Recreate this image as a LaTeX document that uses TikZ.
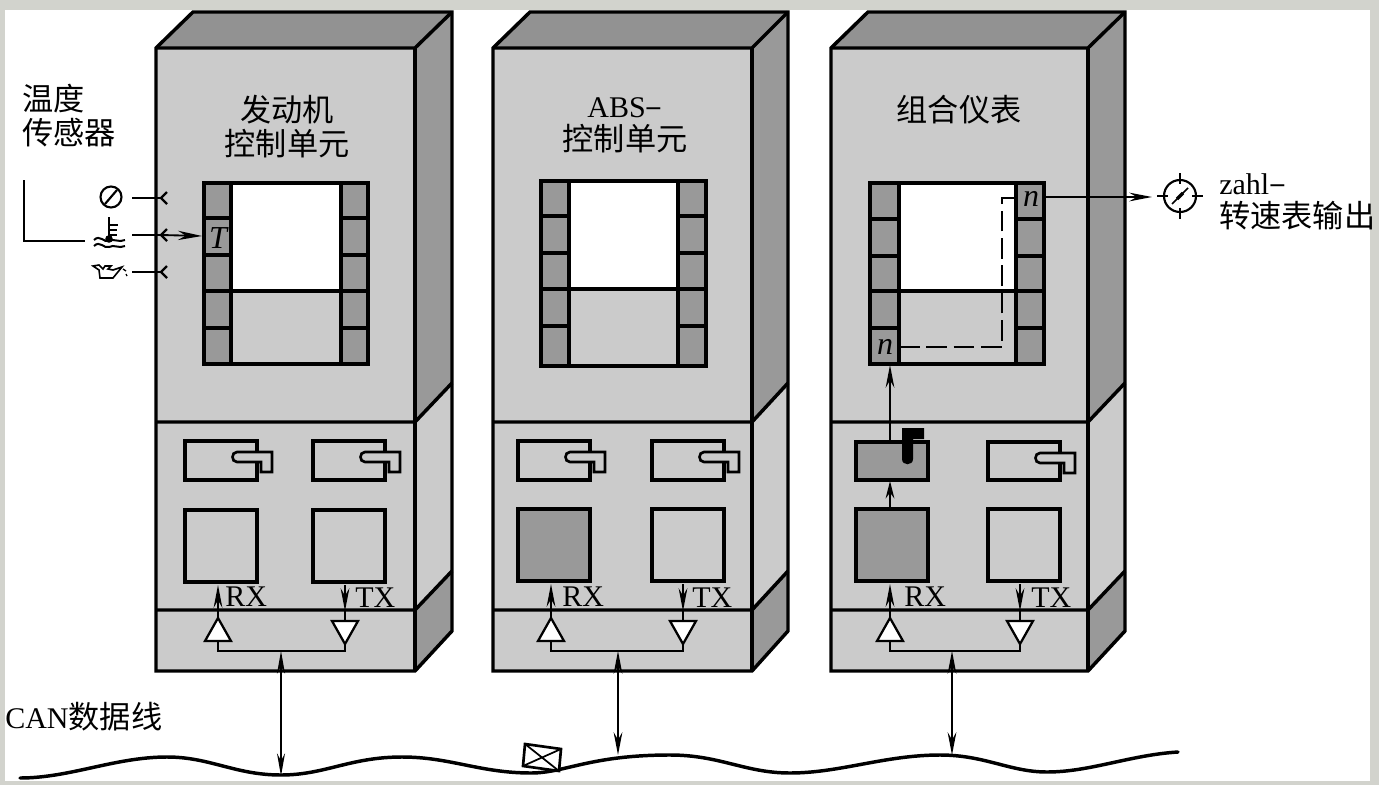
\documentclass[tikz,border=0pt]{standalone}
\usepackage{fontspec}
\setmainfont{Liberation Serif}
\newfontfamily\cjk{Noto Sans CJK SC}[Scale=1.04]
\usetikzlibrary{arrows.meta,calc}
\definecolor{pagegrey}{HTML}{D2D3CD}
\definecolor{frontc}{HTML}{CBCBCB}
\definecolor{topc}{HTML}{929292}
\definecolor{sidec}{HTML}{999999}
\tikzset{
  x=0.75pt,y=-0.75pt,
  heavy/.style={line width=2.6pt,line join=miter,draw=black},
  mid/.style={line width=1.7pt,draw=black},
  lbl/.style={inner sep=0pt,font=\fontsize{22.5}{25}\selectfont,align=center},
  ital/.style={inner sep=0pt,font=\itshape\fontsize{24}{26}\selectfont},
  arr/.style={line width=1.6pt,-{Stealth[length=17pt,width=6.5pt]}},
  arrs/.style={line width=1.8pt,-{Stealth[length=13pt,width=6.5pt]}},
  dbl/.style={line width=1.2pt,{Stealth[length=17pt,width=6pt]}-{Stealth[length=17pt,width=6pt]}},
  dblb/.style={line width=1.9pt,{Stealth[length=17pt,width=6.5pt]}-{Stealth[length=17pt,width=6.5pt]}},
  dashline/.style={line width=2.2pt,draw=black,dash pattern=on 15.5pt off 5pt},
}
\newcommand{\cabinet}[4]{%
  \pgfmathsetmacro{\xb}{#2+37}
  \fill[topc] (#2,48) -- (\xb,12) -- (#4,12) -- (#3,48) -- cycle;
  \fill[sidec] (#3,48) -- (#4,12) -- (#4,383) -- (#3,422) -- cycle;
  \fill[frontc] (#3,422) -- (#4,383) -- (#4,571) -- (#3,610) -- cycle;
  \fill[sidec] (#3,610) -- (#4,571) -- (#4,631) -- (#3,671) -- cycle;
  \fill[frontc] (#2,48) rectangle (#3,671);
  \draw[heavy] (#2,671) -- (#2,48) -- (\xb,12) -- (#4,12) -- (#4,631) -- (#3,671) -- cycle;
  \draw[heavy] (#2,48) -- (#3,48) -- (#4,12);
  \draw[heavy] (#3,48) -- (#3,671);
  \draw[heavy] (#2,422) -- (#3,422) -- (#4,383);
  \draw[heavy] (#2,610) -- (#3,610) -- (#4,571);
}
\newcommand{\chipblock}[9]{%
  \fill[white] (#2,#5) rectangle (#3,#8);
  \fill[sidec] (#1,#5) rectangle (#2,#9);
  \fill[sidec] (#3,#5) rectangle (#4,#9);
  \draw[heavy] (#1,#5) rectangle (#4,#9);
  \draw[heavy] (#2,#5) -- (#2,#9) (#3,#5) -- (#3,#9);
  \draw[heavy] (#1,#6) -- (#2,#6) (#3,#6) -- (#4,#6);
  \draw[heavy] (#1,#7) -- (#2,#7) (#3,#7) -- (#4,#7);
  \draw[heavy] (#1,#8) -- (#4,#8);
}
\newcommand{\rowline}[3]{\draw[heavy] (#1,#3) -- (#2,#3);}
\newcommand{\hookbox}[4]{%
  \pgfmathsetmacro{\ha}{#2-20}\pgfmathsetmacro{\hb}{#2+15}\pgfmathsetmacro{\hc}{#2+4}
  \pgfmathsetmacro{\ya}{#3+11}\pgfmathsetmacro{\yb}{#3+21}\pgfmathsetmacro{\yc}{#3+31}
  \draw[heavy] (#1,#3) rectangle (#2,#4);
  \draw[line width=2pt,fill=frontc] (\ha,\ya) -- (\hb,\ya) -- (\hb,\yc) -- (\hc,\yc) -- (\hc,\yb) -- (\ha,\yb) .. controls ($(\ha,\yb)+(-6,0)$) and ($(\ha,\ya)+(-6,0)$) .. (\ha,\ya) -- cycle;
}
\newcommand{\updown}[7]{%
  \pgfmathsetmacro{\ra}{#2-13}\pgfmathsetmacro{\rb}{#2+13}
  \pgfmathsetmacro{\ta}{#3-13}\pgfmathsetmacro{\tb}{#3+13}
  \coordinate (#1rxtip) at (#2,618);
  \coordinate (#1rxsq) at (#2,#7);
  \coordinate (#1rxbase) at (#2,641);
  \coordinate (#1txsq) at (#3,#7);
  \coordinate (#1txmid) at (#3,611);
  \coordinate (#1txtop) at (#3,621);
  \coordinate (#1txtip) at (#3,644);
  \coordinate (#1join) at (#4,651);
  \coordinate (#1bus) at (#4,#5);
  \draw[mid] (#1rxbase) |- (#1join) -| (#1txtip);
  \draw[mid,fill=white] (#1rxtip) -- (\ra,641) -- (\rb,641) -- cycle;
  \draw[mid,fill=white] (\ta,621) -- (\tb,621) -- (#1txtip) -- cycle;
  \draw[arr] (#1rxtip) -- (#1rxsq);
  \draw[arr] (#1txsq) -- (#1txmid);
  \draw[mid] (#1txmid) -- (#1txtop);
  \draw[#6] (#1join) -- (#1bus);
}
\begin{document}
\begin{tikzpicture}
\useasboundingbox (0,0) rectangle (1379,785);
\fill[pagegrey] (0,0) rectangle (1379,785);
\fill[white] (5,10) rectangle (1369.5,781);

\cabinet{a}{156}{415}{452}
\cabinet{b}{493}{752}{788}
\cabinet{c}{831}{1088}{1125}

\chipblock{204}{231}{341}{368}{183}{218}{255}{291}{364}
\rowline{204}{231}{328}\rowline{341}{368}{328}
\chipblock{541}{569}{678}{706}{181}{216}{253}{289}{366}
\rowline{541}{569}{326}\rowline{678}{706}{326}
\chipblock{870}{899}{1016}{1044}{183}{219}{256}{291}{364}
\rowline{870}{899}{328}\rowline{1016}{1044}{328}

\hookbox{185}{257}{441}{480}
\hookbox{313}{385}{441}{480}
\hookbox{518}{590}{441}{480}
\hookbox{652}{724}{441}{480}
\hookbox{988}{1060}{442}{480}
\draw[heavy] (185,510) rectangle (257,582);
\draw[heavy] (313,510) rectangle (385,582);
\draw[heavy,fill=sidec] (518,509) rectangle (590,581);
\draw[heavy] (652,509) rectangle (724,581);
\draw[heavy,fill=sidec] (856,509) rectangle (928,581);
\draw[heavy] (988,509) rectangle (1060,581);
\draw[heavy,fill=sidec] (856,442) rectangle (928,480);
\fill[black] (902,428) -- (924,428) -- (924,439) -- (913,439) -- (913,459) .. controls (913,466) and (902,466) .. (902,459) -- cycle;

\updown{a}{218}{345}{281}{776}{dbl}{585}
\updown{b}{551}{683}{618}{755}{dblb}{584}
\updown{c}{890}{1020}{952}{755}{dblb}{584}

\node[lbl] (t1) at (287,126.5) {{\cjk 发动机}\\{\cjk 控制单元}};
\node[lbl] (t2) at (625,125.5) {ABS{\cjk –}\\{\cjk 控制单元}};
\node[lbl] (t3) at (959,110) {\cjk 组合仪表};
\node[lbl,align=left,anchor=west] (t4) at (22,115.5) {{\cjk 温度}\\{\cjk 传感器}};
\node[lbl,align=left,anchor=west] (t5) at (1219,202) {zahl{\cjk –}\\{\cjk 转速表输出}};
\node[lbl,anchor=west] (t6) at (5,717) {CAN{\cjk 数据线}};

\node[lbl,anchor=west] (r1) at (225,597) {RX};
\node[lbl,anchor=west] (r2) at (355,598) {TX};
\node[lbl,anchor=west] (r3) at (562,597) {RX};
\node[lbl,anchor=west] (r4) at (692,598) {TX};
\node[lbl,anchor=west] (r5) at (904,597) {RX};
\node[lbl,anchor=west] (r6) at (1031,598) {TX};

\node[ital] (tT) at (218,238) {T};
\node[ital] (n1) at (1031,199) {n};
\node[ital] (n2) at (885,347) {n};

\coordinate (nout) at (1044,197);
\coordinate (ngauge) at (1152,197);
\coordinate (nin) at (899,347);
\coordinate (nbend) at (1002,347);
\coordinate (ntop) at (1002,198);
\coordinate (ntopr) at (1016,198);
\draw[dashline] (nin) -- (nbend) -- (ntop) -- (ntopr);
\draw[arr] (nout) -- (ngauge);
\coordinate (kbtop) at (890,442);
\coordinate (ncellb) at (890,365);
\coordinate (sqtop) at (890,509);
\coordinate (kbbot) at (890,481);
\draw[arr] (kbtop) -- (ncellb);
\draw[arrs] (sqtop) -- (kbbot);

\coordinate (rg) at (1180,196);
\draw[line width=1.6pt] (rg) circle[radius=16];
\draw[line width=1.4pt] (1157,196) -- (1168,196) (1192,196) -- (1203,196) (1180,173) -- (1180,184) (1180,208) -- (1180,219);
\draw[line width=1.2pt] (1172,204) -- (1188,188);
\draw[line width=2.6pt] (1177,199) -- (1183,193);

\draw[line width=1.6pt] (111,197) circle[radius=10.5];
\draw[line width=1.6pt] (105,204) -- (117,190);
\draw[mid] (109,217) -- (109,240);
\draw[line width=1.4pt] (109,225) -- (118,225) (109,230) -- (117,230) (109,235) -- (117,235);
\fill (109,239) circle[radius=3.8];
\draw[line width=1.5pt] (94,240) .. controls (100,234) and (104,243) .. (109,241) .. controls (114,238) and (119,243) .. (125,240);
\draw[line width=1.5pt] (94,246) .. controls (100,240) and (104,249) .. (109,247) .. controls (114,244) and (119,249) .. (125,246);
\draw[line width=1.2pt] (93,266) -- (99,265) -- (103,269) -- (105,266) -- (111,266) -- (108,269) -- (113,270) -- (122,267) -- (113,278) -- (100,278) -- (99,270) -- cycle;
\draw[line width=1pt] (123,269) -- (126,271) (126,274) -- (127,276);

\coordinate (s1) at (132,198); \coordinate (f1) at (161,198);
\coordinate (s2) at (132,235); \coordinate (f2) at (161,235);
\coordinate (s3) at (132,272); \coordinate (f3) at (161,272);
\coordinate (tcell) at (202,236);
\foreach \p in {1,2,3}{
  \draw[mid] (s\p) -- (f\p);
  \draw[mid] ($(f\p)+(6,-6)$) -- (f\p) -- ($(f\p)+(6,6)$);
}
\draw[line width=1.4pt,-{Stealth[length=18pt,width=7pt]}] (f2) -- (tcell);
\coordinate (br1) at (24,180); \coordinate (br2) at (85,241);
\draw[mid] (br1) |- (br2);

\draw[line width=2.6pt,line cap=round] (20,778) .. controls (70,778) and (115,757) .. (167,757)
  .. controls (210,757) and (235,775) .. (281,775)
  .. controls (325,775) and (350,757) .. (402,757)
  .. controls (450,757) and (480,773) .. (531,773)
  .. controls (565,773) and (590,755) .. (670,755)
  .. controls (720,755) and (745,773) .. (790,773)
  .. controls (840,773) and (885,755) .. (940,755)
  .. controls (985,755) and (1010,772) .. (1047,772)
  .. controls (1090,772) and (1130,755) .. (1178,752);
\draw[line width=2pt,fill=white] (525,744) -- (561,749) -- (559,771) -- (523,766) -- cycle;
\draw[line width=1.3pt] (525,744) -- (559,771) (561,749) -- (523,766);
\end{tikzpicture}
\end{document}
